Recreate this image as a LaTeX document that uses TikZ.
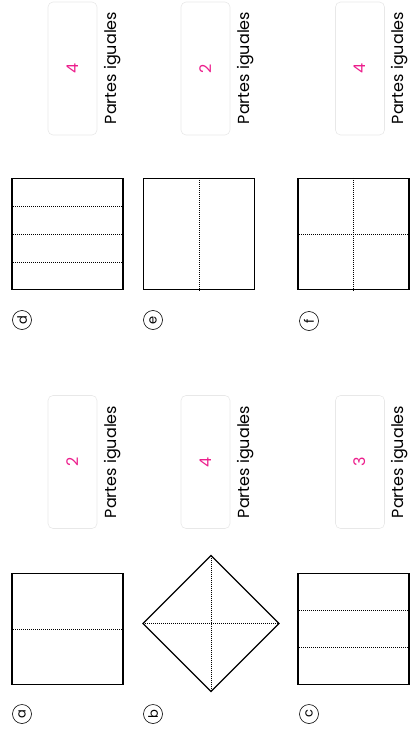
\documentclass[tikz,border=0pt]{standalone}
\usepackage{fontspec}
\setmainfont{Poppins}
\usetikzlibrary{positioning,calc}
\definecolor{numpink}{RGB}{236,30,140}
\definecolor{boxgray}{RGB}{232,232,232}

\tikzset{
  sheet/.style={draw,line width=1.1pt},
  sq/.style={sheet,inner sep=0pt,minimum size=111pt},
  fold/.style={line width=0.6pt,dash pattern=on 1pt off 1pt},
  ansbox/.style={draw=boxgray,line width=0.6pt,rounded corners=5pt,rotate=90,
    minimum width=133pt,minimum height=49pt,text=numpink,
    font=\fontsize{16}{18}\selectfont},
  parts/.style={rotate=90,font=\fontsize{16}{18}\selectfont},
  tag/.style={circle,draw,line width=0.6pt,inner sep=0pt,minimum size=19pt,
    rotate=90,font=\fontsize{13}{14}\selectfont}
}

\begin{document}
\begin{tikzpicture}[x=1pt,y=1pt]
\useasboundingbox (0,0) rectangle (410,-733);

% top half: d, e, f
\node[sq] (sqd) at (67.5,-234) {};
\foreach \t in {0.25,0.5,0.75}
  \draw[fold] ($(sqd.north west)!\t!(sqd.south west)$) -- ($(sqd.north east)!\t!(sqd.south east)$);
\node[tag] (tagd) at (22,-320) {d};
\node[ansbox] (ansd) at (72.5,-68.5) {4};
\node[parts] (ptd) at (112.5,-68) {Partes iguales};

\node[sq] (sqe) at (199,-234) {};
\draw[fold] (sqe.north) -- (sqe.south);
\node[tag] (tage) at (153,-320) {e};
\node[ansbox] (anse) at (205.5,-68.5) {2};
\node[parts] (pte) at (246,-68) {Partes iguales};

\node[sq] (sqf) at (353.5,-234) {};
\draw[fold] (sqf.north) -- (sqf.south);
\draw[fold] (sqf.west) -- (sqf.east);
\node[tag] (tagf) at (309,-321) {f};
\node[ansbox] (ansf) at (360,-68.5) {4};
\node[parts] (ptf) at (400,-68) {Partes iguales};

% bottom half: a, b, c
\node[sq] (sqa) at (67.5,-629) {};
\draw[fold] (sqa.west) -- (sqa.east);
\node[tag] (taga) at (22,-714) {a};
\node[ansbox] (ansa) at (72.5,-462) {2};
\node[parts] (pta) at (112.5,-462) {Partes iguales};

\coordinate (bt) at (211,-555.5);
\coordinate (br) at (279,-623.5);
\coordinate (bb) at (211,-691.5);
\coordinate (bl) at (143,-623.5);
\draw[sheet] (bt) -- (br) -- (bb) -- (bl) -- cycle;
\draw[fold] (bt) -- (bb);
\draw[fold] (bl) -- (br);
\node[tag] (tagb) at (153,-714) {b};
\node[ansbox] (ansb) at (205.5,-462) {4};
\node[parts] (ptb) at (246,-462) {Partes iguales};

\node[sq] (sqc) at (353.5,-629) {};
\foreach \t in {1/3,2/3}
  \draw[fold] ($(sqc.north west)!\t!(sqc.south west)$) -- ($(sqc.north east)!\t!(sqc.south east)$);
\node[tag] (tagc) at (309,-714) {c};
\node[ansbox] (ansc) at (360,-462) {3};
\node[parts] (ptc) at (400,-462) {Partes iguales};
\end{tikzpicture}
\end{document}
